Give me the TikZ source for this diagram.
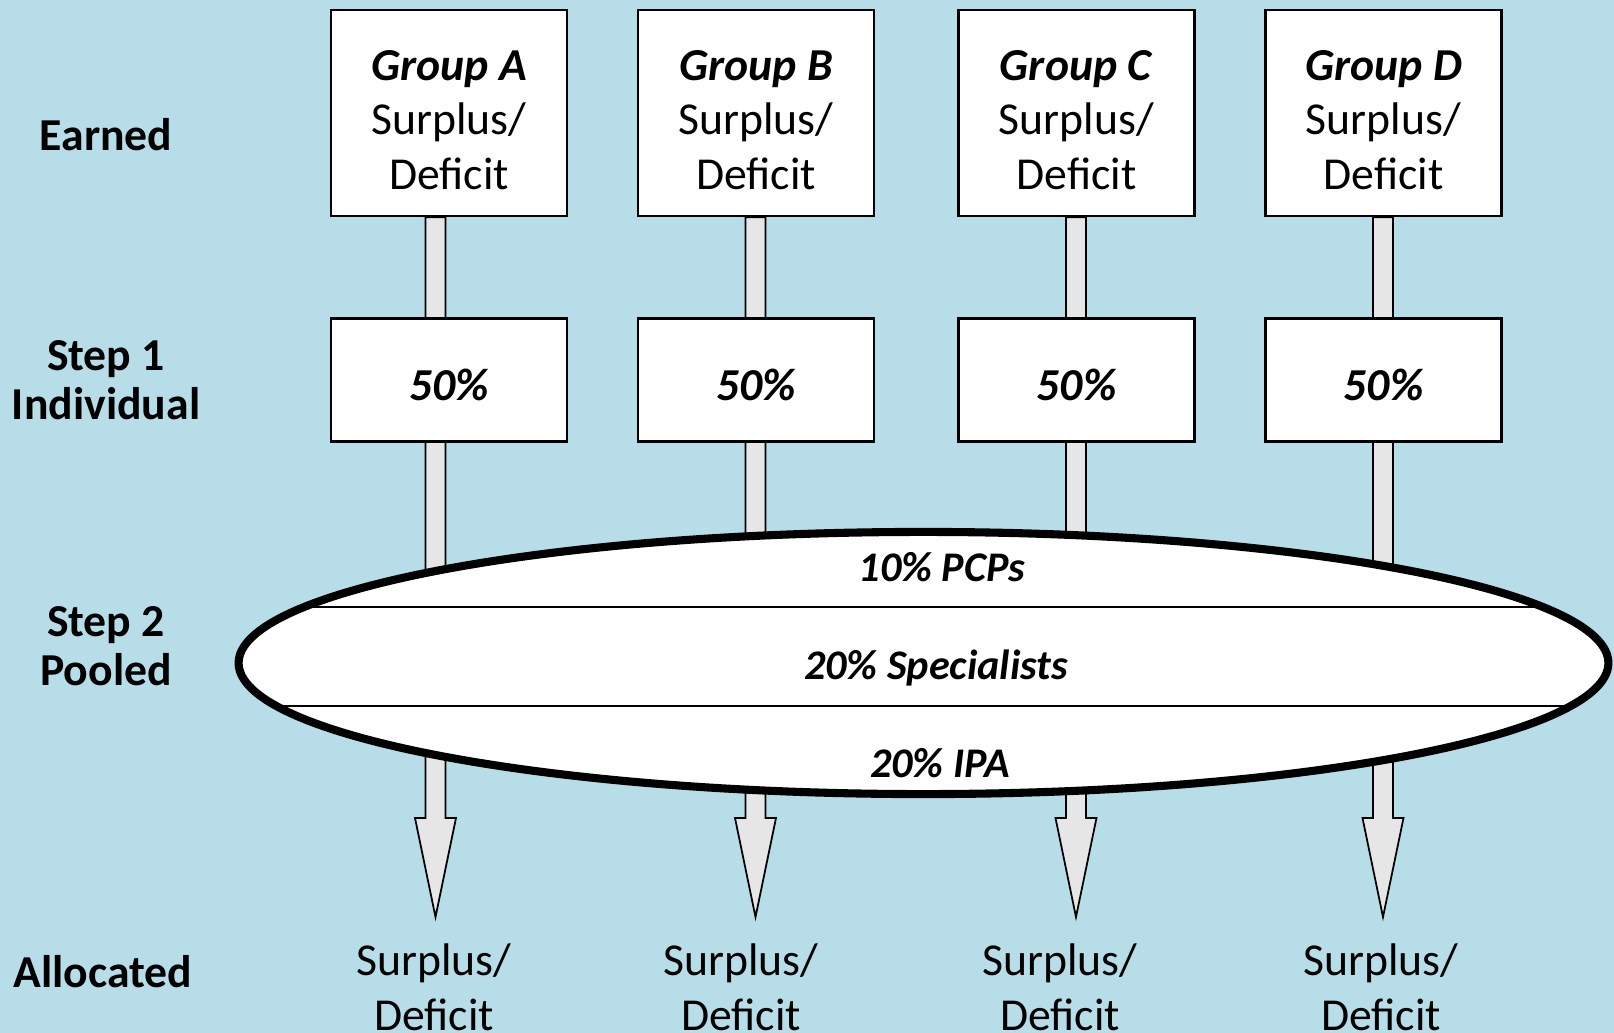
\documentclass[tikz,border=0pt]{standalone}
\usepackage{fontspec}
\setmainfont{Carlito}
\usetikzlibrary{calc,positioning,shapes.geometric}
\definecolor{panel}{HTML}{B7DEE8}
\definecolor{shaft}{HTML}{E6E6E6}
\pgfdeclarelayer{backdrop}
\pgfdeclarelayer{shafts}
\pgfsetlayers{backdrop,shafts,main}
\newcommand{\toplift}[1]{\rule{0pt}{#1}}
\tikzset{
    group box/.style={
        draw, line width=0.7pt, fill=white,
        minimum width=2.36cm, minimum height=2.06cm,
        align=center, font=\fontsize{13}{15.6}\selectfont
    },
    step box/.style={
        draw, line width=0.7pt, fill=white,
        minimum width=2.36cm, minimum height=1.23cm,
        font=\fontsize{13}{15.6}\selectfont\bfseries\itshape
    },
    row label/.style={
        align=center, font=\fontsize{13}{14}\selectfont\bfseries
    },
    result label/.style={
        align=center, font=\fontsize{13}{15.6}\selectfont
    },
    pool text/.style={
        font=\fontsize{12}{14}\selectfont\bfseries\itshape
    },
    flow arrow/.style={
        draw=black, fill=shaft, line width=0.5pt
    },
    pool/.style={
        ellipse, draw, line width=2.3pt, fill=white, inner sep=0pt,
        minimum width=13.69cm, minimum height=2.62cm,
        path picture={
            \draw[line width=0.6pt]
            ($(path picture bounding box.west)+(0,0.56cm)$) --
            ($(path picture bounding box.east)+(0,0.56cm)$);
            \draw[line width=0.6pt]
            ($(path picture bounding box.west)+(0,-0.43cm)$) --
            ($(path picture bounding box.east)+(0,-0.43cm)$);
        }
    }
}

\begin{document}
\begin{tikzpicture}[x=0.01cm, y=-0.01cm]
                \begin{pgfonlayer}{backdrop}
                \fill[panel] (0,0) rectangle (1614,1033);
                \end{pgfonlayer}
                \useasboundingbox (0,0) rectangle (1614,1033);

                \coordinate (tipA) at (435.5, 917);
                \coordinate (tipB) at (755.5, 917);
                \coordinate (tipC) at (1076, 917);
                \coordinate (tipD) at (1383, 917);

                \node[group box] (grpA) at (449, 113) {\toplift{12.6pt}\textbf{\textit{Group A}}\\Surplus/\\Deficit};
                \node[group box] (grpB) at (756, 113) {\toplift{12.6pt}\textbf{\textit{Group B}}\\Surplus/\\Deficit};
                \node[group box] (grpC) at (1076.5, 113) {\toplift{12.6pt}\textbf{\textit{Group C}}\\Surplus/\\Deficit};
                \node[group box] (grpD) at (1383.5, 113) {\toplift{12.6pt}\textbf{\textit{Group D}}\\Surplus/\\Deficit};

                \foreach \g in {A,B,C,D}{
                    \node[step box, below=1.0cm of grp\g] (ind\g) {\toplift{11.7pt}50\%};
                }

                \begin{pgfonlayer}{shafts}
                \foreach \g in {A,B,C,D}{
                    \draw[flow arrow]
                    ($(tip\g |- grp\g.south)+(-10,0)$) -- ($(tip\g)+(-10,-99)$)
                    -- ($(tip\g)+(-20.5,-99)$) -- (tip\g) -- ($(tip\g)+(20.5,-99)$)
                    -- ($(tip\g)+(10,-99)$) -- ($(tip\g |- grp\g.south)+(10,0)$) -- cycle;
                }
                \end{pgfonlayer}

                \node[pool] (pool) at (923.5, 663) {};
                \node[pool text] (pcp) at (942, 567) {10\% PCPs};
                \node[pool text] (spec) at (936, 668) {20\% Specialists};
                \node[pool text] (ipa) at (940, 763) {20\% IPA};

                \node[row label] (earned) at (106, 135) {Earned};
                \node[row label] (single) at (106, 380) {Step 1\\Individual};
                \node[row label] (pooled) at (106, 646) {Step 2\\Pooled};
                \node[row label] (alloc) at (103, 972) {Allocated};

                \node[result label] (outA) at (434, 987) {Surplus/\\Deficit};
                \node[result label] (outB) at (741, 987) {Surplus/\\Deficit};
                \node[result label] (outC) at (1060, 987) {Surplus/\\Deficit};
                \node[result label] (outD) at (1381, 987) {Surplus/\\Deficit};
                % \draw[red] (pool.west) -- (pool.east); % centre check
\end{tikzpicture}
\end{document}
